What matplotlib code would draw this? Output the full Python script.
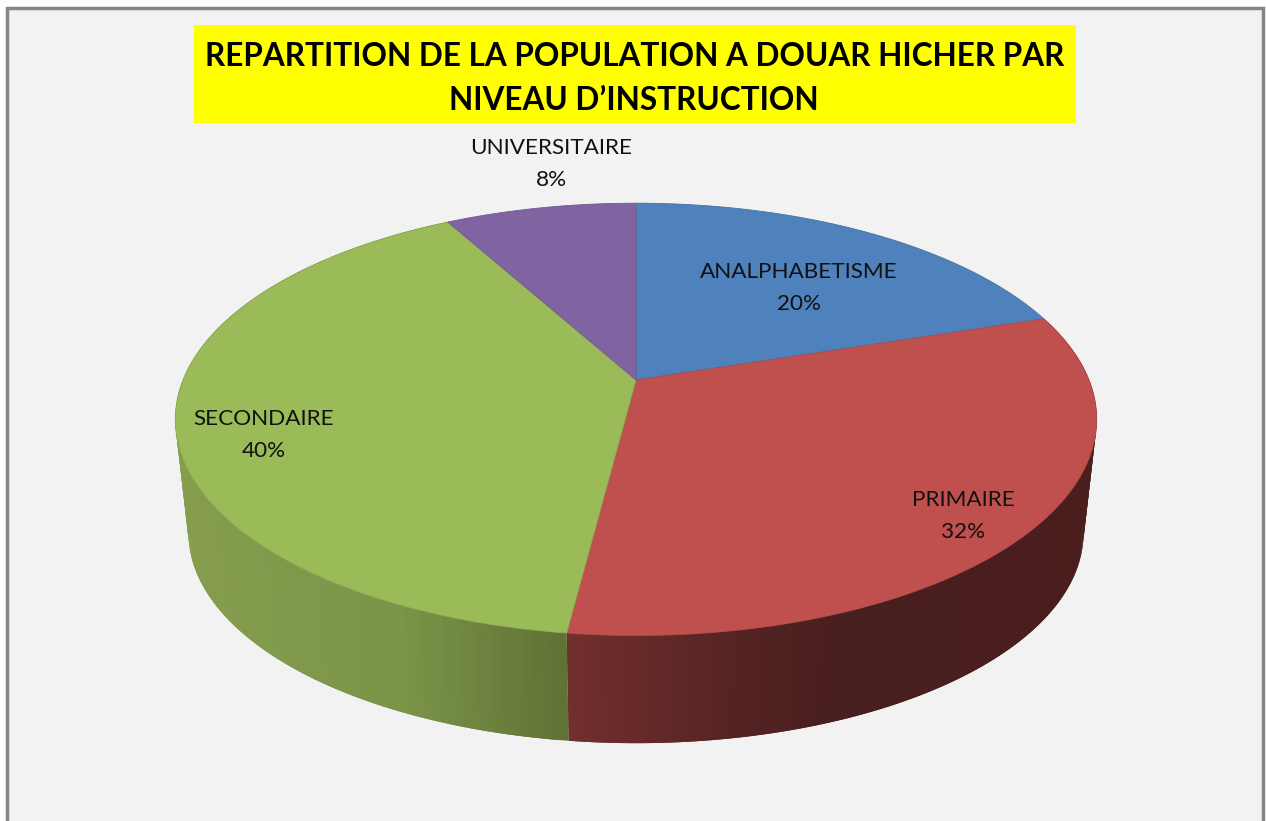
import numpy as np
import matplotlib
matplotlib.use('Agg')
import matplotlib.pyplot as plt
from matplotlib.patches import Rectangle

categories = ['ANALPHABETISME', 'PRIMAIRE', 'SECONDAIRE', 'UNIVERSITAIRE']
percents = [20, 32, 40, 8]
title_lines = ['REPARTITION DE LA POPULATION A DOUAR HICHER PAR', 'NIVEAU D\u2019INSTRUCTION']

top_colors = ['#4f81bd', '#c0504d', '#9bbb59', '#8064a2']
edge_colors = ['#47739f', '#ad4846', '#8ba850', '#735a92']
# side shading, from screen x to rgb
side_x = {1: [570, 740, 850, 1090], 2: [180, 400, 570]}
side_rgb = {1: [(113, 47, 45), (85, 35, 35), (72, 30, 30), (75, 30, 30)],
            2: [(134, 157, 78), (122, 148, 72), (95, 112, 52)]}
label_pos = [(799, 287), (963, 515), (264, 434), (551, 163)]

plt.rcParams['font.family'] = ['Lato', 'DejaVu Sans']


def project(theta, cy, a, b, k=0.182):
    # circle seen in perspective, theta clockwise from the back of the pie
    u = np.sin(theta)
    v = np.cos(theta)
    d = 1 + k * v
    return 636 + a * u / d, cy - b * v / d


fig = plt.figure(figsize=(12.66, 8.21), dpi=100)
ax = fig.add_axes([0, 0, 1, 1])
ax.set_xlim(0, 1266)
ax.set_ylim(821, 0)
ax.axis('off')

ax.add_patch(Rectangle((7, 8), 1256, 830, fc='#f2f2f2', ec='#868686', lw=2.5))
ax.add_patch(Rectangle((194, 25), 882, 98, fc='#ffff00', ec='none'))

bounds = np.radians(np.cumsum([0] + percents) * 3.6)

# sides first, every quad runs over the next one so no seams show
for i in side_x:
    th = np.linspace(bounds[i], bounds[i + 1], 160)
    x1, y1 = project(th, 380, 453, 209)
    x2, y2 = project(th, 495, 440, 203)
    for j in range(len(th) - 1):
        e = min(j + 2, len(th) - 1)
        xm = (x1[j] + x1[j + 1]) / 2
        rgb = [np.interp(xm, side_x[i], [c[n] for c in side_rgb[i]]) / 255 for n in range(3)]
        ax.fill([x1[j], x1[j + 1], x1[e], x2[e], x2[j + 1], x2[j]],
                [y1[j], y1[j + 1], y1[e], y2[e], y2[j + 1], y2[j]], fc=rgb, ec='none')

# top of the pie
for i in range(len(percents)):
    th = np.linspace(bounds[i], bounds[i + 1], 200)
    x, y = project(th, 380, 453, 209)
    ax.fill(np.r_[636, x], np.r_[380, y], fc=top_colors[i], ec=edge_colors[i], lw=0.6, joinstyle='round')

for i in range(len(categories)):
    ax.text(label_pos[i][0], label_pos[i][1] + 1, f'{categories[i]}\n{percents[i]}%', ha='center', va='center',
            fontsize=16.2, color='#111111', linespacing=1.75)

ax.text(635, 57, title_lines[0], ha='center', va='center', fontsize=22.7, fontweight='bold', color='black')
ax.text(634, 101, title_lines[1], ha='center', va='center', fontsize=22.7, fontweight='bold', color='black')

plt.savefig('out.png', dpi=100)
